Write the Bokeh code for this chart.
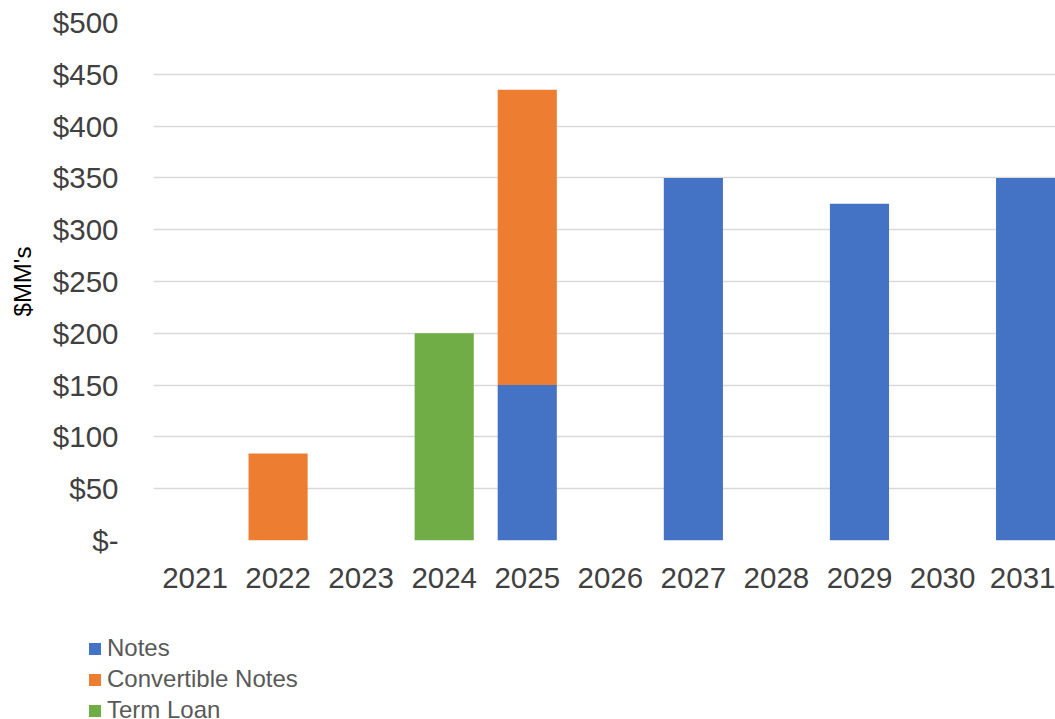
from bokeh.plotting import figure
from bokeh.layouts import column
from bokeh.models import Range1d, FixedTicker, Legend, LegendItem, ColumnDataSource
from bokeh.embed import file_html
from bokeh.resources import INLINE

years = ["2021", "2022", "2023", "2024", "2025", "2026", "2027", "2028", "2029", "2030", "2031"]
notes = [0, 0, 0, 0, 150, 0, 350, 0, 325, 0, 350]
convertible_notes = [0, 84, 0, 0, 285, 0, 0, 0, 0, 0, 0]
term_loan = [0, 0, 0, 200, 0, 0, 0, 0, 0, 0, 0]
series_names = ["Notes", "Convertible Notes", "Term Loan"]
series_colors = ["#4472C4", "#ED7D31", "#70AD47"]
y_ticks = [0, 50, 100, 150, 200, 250, 300, 350, 400, 450, 500]
y_tick_labels = ["$-", "$50", "$100", "$150", "$200", "$250", "$300", "$350", "$400", "$450", "$500"]

xs = list(range(len(years)))
src = ColumnDataSource(dict(x=xs, notes=notes, conv=convertible_notes, term=term_loan))

FONT = "Liberation Sans"

p = figure(width=1055, height=605, output_backend="svg", toolbar_location=None,
           x_range=Range1d(-0.5, 10.36), y_range=Range1d(0, 500),
           min_border_left=153, min_border_right=0, min_border_top=22,
           min_border_bottom=65)
p.outline_line_color = None
p.frame_align = False

renderers = p.vbar_stack(["notes", "conv", "term"], x="x", width=0.712, source=src,
                         color=series_colors, line_color=None)

p.xgrid.grid_line_color = None
p.ygrid.grid_line_color = "#D9D9D9"
p.ygrid.grid_line_width = 1.5

p.yaxis.ticker = FixedTicker(ticks=y_ticks)
p.yaxis.major_label_overrides = {t: l for t, l in zip(y_ticks, y_tick_labels)}
p.xaxis.ticker = FixedTicker(ticks=xs)
p.xaxis.major_label_overrides = {i: y for i, y in zip(xs, years)}

for ax in (p.xaxis[0], p.yaxis[0]):
    ax.axis_line_color = None
    ax.major_tick_line_color = None
    ax.minor_tick_line_color = None
    ax.major_tick_out = 0
    ax.major_tick_in = 0
    ax.minor_tick_out = 0
    ax.major_label_text_font = FONT
    ax.major_label_text_font_size = "29.5px"
    ax.major_label_text_color = "#404040"

p.yaxis.major_label_standoff = 35
p.xaxis.major_label_standoff = 27
p.yaxis.axis_label = "$MM's"
p.yaxis.axis_label_text_font = FONT
p.yaxis.axis_label_text_font_size = "24px"
p.yaxis.axis_label_text_font_style = "normal"
p.yaxis.axis_label_text_color = "#000000"
p.yaxis.axis_label_standoff = 14

# legend panel below the chart
lg = figure(width=1055, height=119, output_backend="svg", toolbar_location=None,
            x_range=Range1d(0, 1), y_range=Range1d(0, 1),
            x_axis_location=None, y_axis_location=None,
            min_border_left=0, min_border_right=0, min_border_top=0, min_border_bottom=0)
lg.outline_line_color = None
lg.frame_align = False
lg.xgrid.grid_line_color = None
lg.ygrid.grid_line_color = None
dummies = [lg.vbar(x=[10], top=[1], width=0.5, color=c, line_color=None)
           for c in series_colors]

legend = Legend(items=[LegendItem(label=n, renderers=[r]) for n, r in zip(series_names, dummies)],
                location=(87, 0), orientation="vertical",
                glyph_width=15, glyph_height=15, label_standoff=5,
                label_text_font=FONT, label_text_font_size="24px",
                label_text_color="#595959", label_height=28, spacing=3,
                padding=0, margin=0, border_line_color=None,
                background_fill_alpha=0)
lg.add_layout(legend, "center")

layout = column(p, lg, spacing=0)
open("out.html", "w").write(file_html(layout, INLINE))
